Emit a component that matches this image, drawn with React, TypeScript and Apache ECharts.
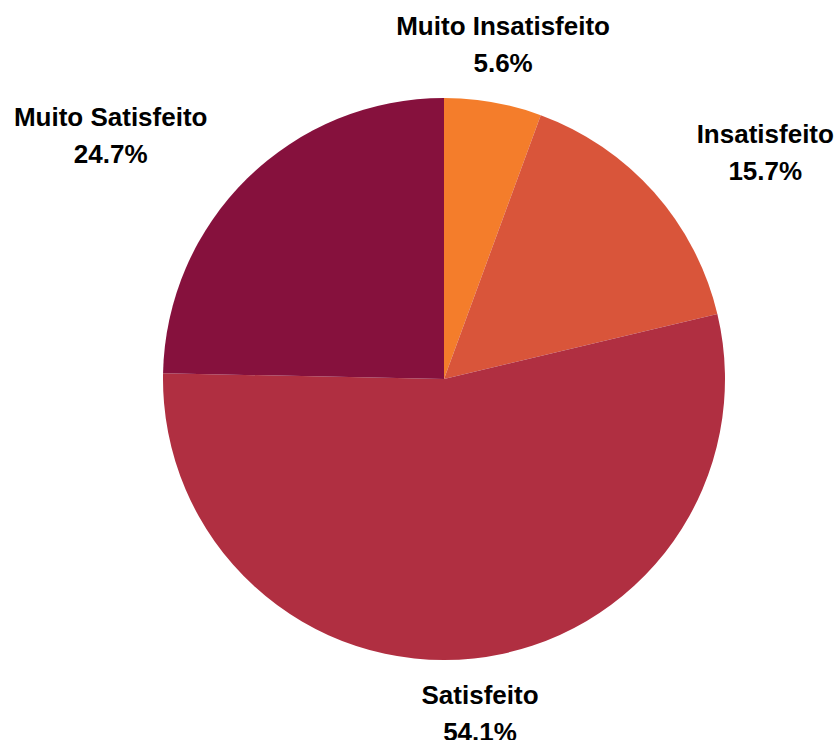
import React, { useEffect, useRef } from 'react';
import * as echarts from 'echarts';

const categories = ['Muito Insatisfeito', 'Insatisfeito', 'Satisfeito', 'Muito Satisfeito'];
const percentages = [5.6, 15.7, 54.1, 24.7];
const colors = ['#F47D2B', '#D9553A', '#B02F41', '#86113D'];

export default function App() {
  const ref = useRef<HTMLDivElement>(null);
  useEffect(() => {
    document.body.style.margin = '0';
    const chart = echarts.init(ref.current!, null, { renderer: 'svg' });
    const cx = 444, cy = 379, r = 281, labelR = 338, labelCy = 377;
    const total = percentages.reduce((a, b) => a + b, 0);
    const mids: number[] = [];
    let acc = 0;
    percentages.forEach((v) => {
      mids.push(((acc + v / 2) / total) * 2 * Math.PI);
      acc += v;
    });
    const txt = {
      fontFamily: 'Liberation Sans, Arial, sans-serif',
      fontSize: 26,
      fontWeight: 'bold',
      color: '#000',
      lineHeight: 37,
      align: 'center',
    };
    chart.setOption({
      animation: false,
      series: [
        {
          type: 'pie',
          center: [cx, cy],
          radius: r,
          startAngle: 90,
          clockwise: true,
          avoidLabelOverlap: false,
          itemStyle: { borderWidth: 0 },
          emphasis: { disabled: true },
          labelLine: { show: false },
          label: {
            show: true,
            position: 'outside',
            formatter: (p: any) => `{n|${p.name}}\n{p|${Number(p.value).toFixed(1)}%}`,
            rich: { n: txt, p: txt },
          },
          labelLayout: (params: any) => {
            const a = mids[params.dataIndex];
            const s = Math.sin(a);
            return {
              x: cx + labelR * s,
              y: labelCy - labelR * Math.cos(a),
              align: Math.abs(s) < 0.25 ? 'center' : s > 0 ? 'left' : 'right',
              verticalAlign: 'middle',
            };
          },
          data: categories.map((c, i) => ({
            name: c,
            value: percentages[i],
            itemStyle: { color: colors[i] },
          })),
        },
      ],
    });
    return () => chart.dispose();
  }, []);
  return <div ref={ref} style={{ width: 839, height: 740 }} />;
}
